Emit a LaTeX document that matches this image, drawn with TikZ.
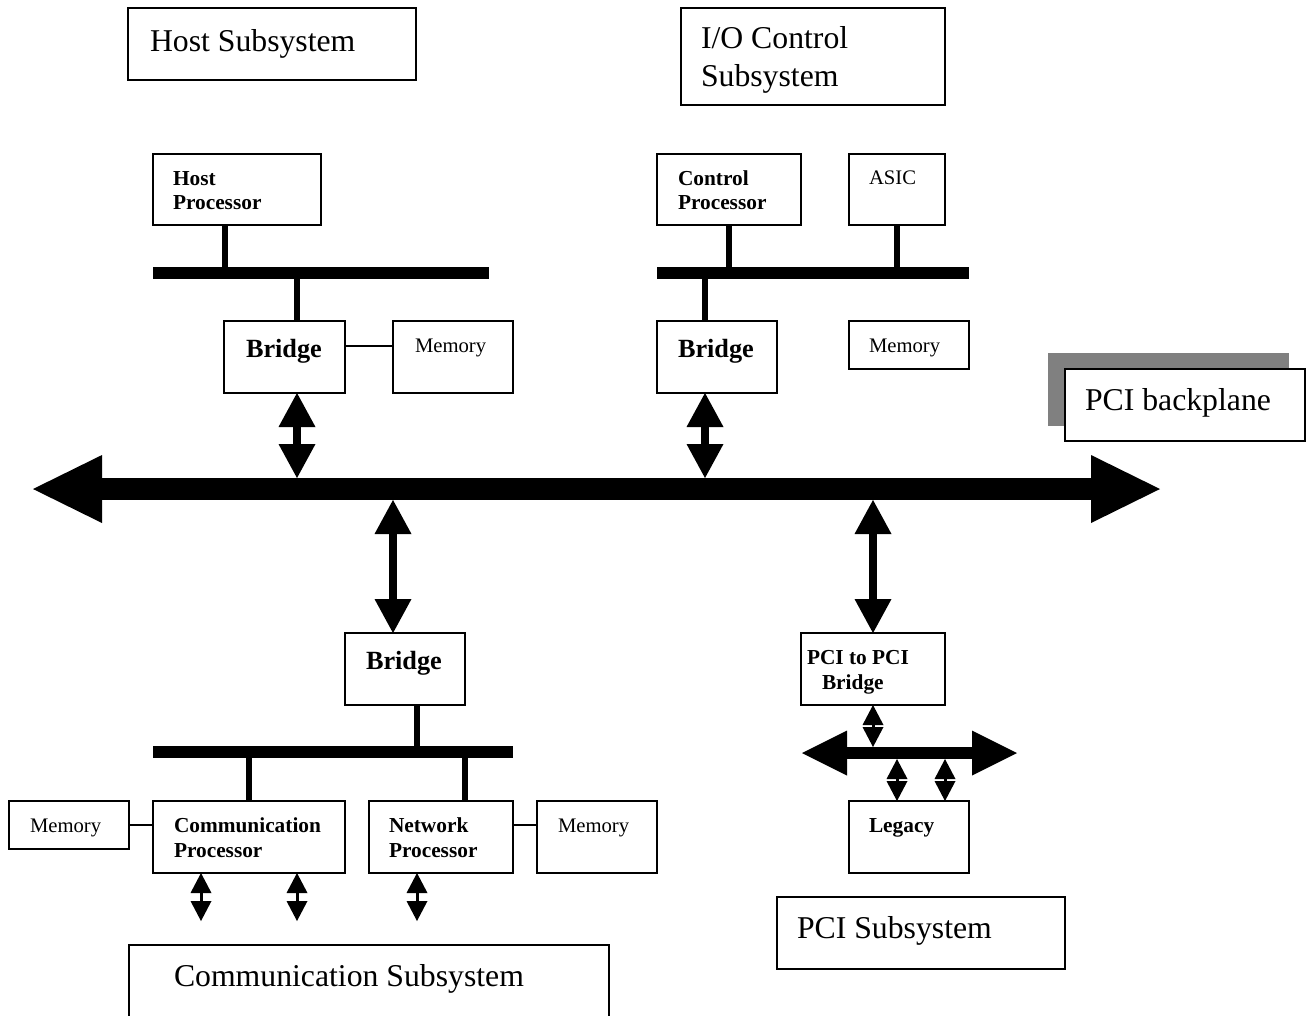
\documentclass[tikz,border=0pt]{standalone}
\usepackage{fontspec}
\setmainfont{Liberation Serif}
\usetikzlibrary{arrows.meta}
\definecolor{shadowgray}{HTML}{808080}

% a framed block given by its corners (x1,y1) and (x2,y2), in pixel units
\newcommand\unitbox[5]{\node[blk, minimum width={(#4-#2)*0.75pt}, minimum height={(#5-#3)*0.75pt}] (#1) at (#2,#3) {};}
% a solid black bus bar given by its corners
\newcommand\busbar[5]{\node[barstyle, minimum width={(#4-#2)*0.75pt}, minimum height={(#5-#3)*0.75pt}] (#1) at (#2,#3) {};}

\begin{document}
\begin{tikzpicture}[x=0.75pt,y=-0.75pt,
  blk/.style={draw, line width=1pt, fill=white, inner sep=0pt, outer sep=0pt, anchor=north west},
  barstyle/.style={fill=black, draw=none, inner sep=0pt, outer sep=0pt, anchor=north west},
  txt/.style={inner sep=0pt, outer sep=0pt, anchor=base west},
  title/.style={txt, font=\fontsize{23.8}{28}\selectfont},
  brfont/.style={txt, font=\fontsize{19.7}{24}\selectfont\bfseries},
  smallbold/.style={txt, font=\fontsize{16}{19}\selectfont\bfseries},
  smallreg/.style={txt, font=\fontsize{15.5}{19}\selectfont},
  stub/.style={line width=5pt},
  thin/.style={line width=1pt},
  bigdbl/.style={line width=6pt,
    {Triangle[length=25.5pt,width=27.75pt,line width=0pt]}-{Triangle[length=25.5pt,width=27.75pt,line width=0pt]}},
  smalldbl/.style={line width=2.25pt,
    {Triangle[length=15pt,width=15.75pt,line width=0pt]}-{Triangle[length=15pt,width=15.75pt,line width=0pt]}},
  mainarrow/.style={line width=16.5pt,
    {Triangle[length=51.75pt,width=51pt,line width=0pt]}-{Triangle[length=51.75pt,width=51pt,line width=0pt]}},
  pciarrow/.style={line width=9pt,
    {Triangle[length=33.75pt,width=33.75pt,line width=0pt]}-{Triangle[length=33.75pt,width=33.75pt,line width=0pt]}},
]
\useasboundingbox (0,0) rectangle (1309,1015);

% ---------- subsystem captions ----------
\unitbox{hsub}{128}{8}{416}{80}
\node[title] at (150,51) {Host Subsystem};
\unitbox{iosub}{681}{8}{945}{105}
\node[title] at (701,48) {I/O Control};
\node[title] at (701,86) {Subsystem};

% ---------- host side ----------
\unitbox{hproc}{153}{154}{321}{225}
\node[smallbold] at (173,185) {Host};
\node[smallbold] at (173,209) {Processor};
\busbar{hbus}{153}{267}{489}{279}
\unitbox{hbr}{224}{321}{345}{393}
\node[brfont] at (246,357) {Bridge};
\unitbox{hmem}{393}{321}{513}{393}
\node[smallreg] at (415,352) {Memory};
\draw[stub] (225,0 |- hproc.south) -- (225,0 |- hbus.north);
\draw[stub] (297,0 |- hbus.south) -- (297,0 |- hbr.north);
\draw[thin] (hbr.east |- 0,346) -- (hmem.west |- 0,346);

% ---------- I/O control side ----------
\unitbox{cproc}{657}{154}{801}{225}
\node[smallbold] at (678,185) {Control};
\node[smallbold] at (678,209) {Processor};
\unitbox{asic}{849}{154}{945}{225}
\node[smallreg] at (869,184) {ASIC};
\busbar{iobus}{657}{267}{969}{279}
\unitbox{iobr}{657}{321}{777}{393}
\node[brfont] at (678,357) {Bridge};
\unitbox{iomem}{849}{321}{969}{369}
\node[smallreg] at (869,352) {Memory};
\draw[stub] (729,0 |- cproc.south) -- (729,0 |- iobus.north);
\draw[stub] (897,0 |- asic.south) -- (897,0 |- iobus.north);
\draw[stub] (705,0 |- iobus.south) -- (705,0 |- iobr.north);

% ---------- PCI backplane ----------
\fill[shadowgray] (1048,353) rectangle (1289,426);
\unitbox{pcib}{1065}{369}{1305}{441}
\node[title] at (1085,410) {PCI backplane};
\node[inner sep=0pt, outer sep=0pt, minimum width={(1160-33)*0.75pt}, minimum height={22*0.75pt}, anchor=west] (mainbus) at (33,489) {};
\draw[mainarrow] (mainbus.west) -- (mainbus.east);
\draw[bigdbl] (297,0 |- hbr.south) -- (297,0 |- mainbus.north);
\draw[bigdbl] (705,0 |- iobr.south) -- (705,0 |- mainbus.north);

% ---------- communication side ----------
\unitbox{cbr}{345}{633}{465}{705}
\node[brfont] at (366,669) {Bridge};
\draw[bigdbl] (393,0 |- mainbus.south) -- (393,0 |- cbr.north);
\busbar{cbus}{153}{746}{513}{758}
\unitbox{lmem}{9}{801}{129}{849}
\node[smallreg] at (30,832) {Memory};
\unitbox{commproc}{153}{801}{345}{873}
\node[smallbold] at (174,832) {Communication};
\node[smallbold] at (174,857) {Processor};
\unitbox{netproc}{369}{801}{513}{873}
\node[smallbold] at (389,832) {Network};
\node[smallbold] at (389,857) {Processor};
\unitbox{rmem}{537}{801}{657}{873}
\node[smallreg] at (558,832) {Memory};
\draw[stub] (417,0 |- cbr.south) -- (417,0 |- cbus.north);
\draw[stub] (249,0 |- cbus.south) -- (249,0 |- commproc.north);
\draw[stub] (465,0 |- cbus.south) -- (465,0 |- netproc.north);
\draw[thin] (lmem.east |- 0,825) -- (commproc.west |- 0,825);
\draw[thin] (netproc.east |- 0,825) -- (rmem.west |- 0,825);
\coordinate (port1) at (201,921);
\coordinate (port2) at (297,921);
\coordinate (port3) at (417,921);
\draw[smalldbl] (201,0 |- commproc.south) -- (port1);
\draw[smalldbl] (297,0 |- commproc.south) -- (port2);
\draw[smalldbl] (417,0 |- netproc.south) -- (port3);
\unitbox{csub}{129}{945}{609}{1040}
\node[title] at (174,986) {Communication Subsystem};

% ---------- PCI subsystem ----------
\unitbox{ppbr}{801}{633}{945}{705}
\node[smallbold] at (807,664) {PCI to PCI};
\node[smallbold] at (822,689) {Bridge};
\draw[bigdbl] (873,0 |- mainbus.south) -- (873,0 |- ppbr.north);
\node[inner sep=0pt, outer sep=0pt, minimum width={(1017-802)*0.75pt}, minimum height={12*0.75pt}, anchor=west] (pcibus) at (802,753) {};
\draw[pciarrow] (pcibus.west) -- (pcibus.east);
\unitbox{legacy}{849}{801}{969}{873}
\node[smallbold] at (869,832) {Legacy};
\draw[smalldbl] (873,0 |- ppbr.south) -- (873,0 |- pcibus.north);
\draw[smalldbl] (897,0 |- pcibus.south) -- (897,0 |- legacy.north);
\draw[smalldbl] (945,0 |- pcibus.south) -- (945,0 |- legacy.north);
\unitbox{pcisub}{777}{897}{1065}{969}
\node[title] at (797,938) {PCI Subsystem};
\end{tikzpicture}
\end{document}
